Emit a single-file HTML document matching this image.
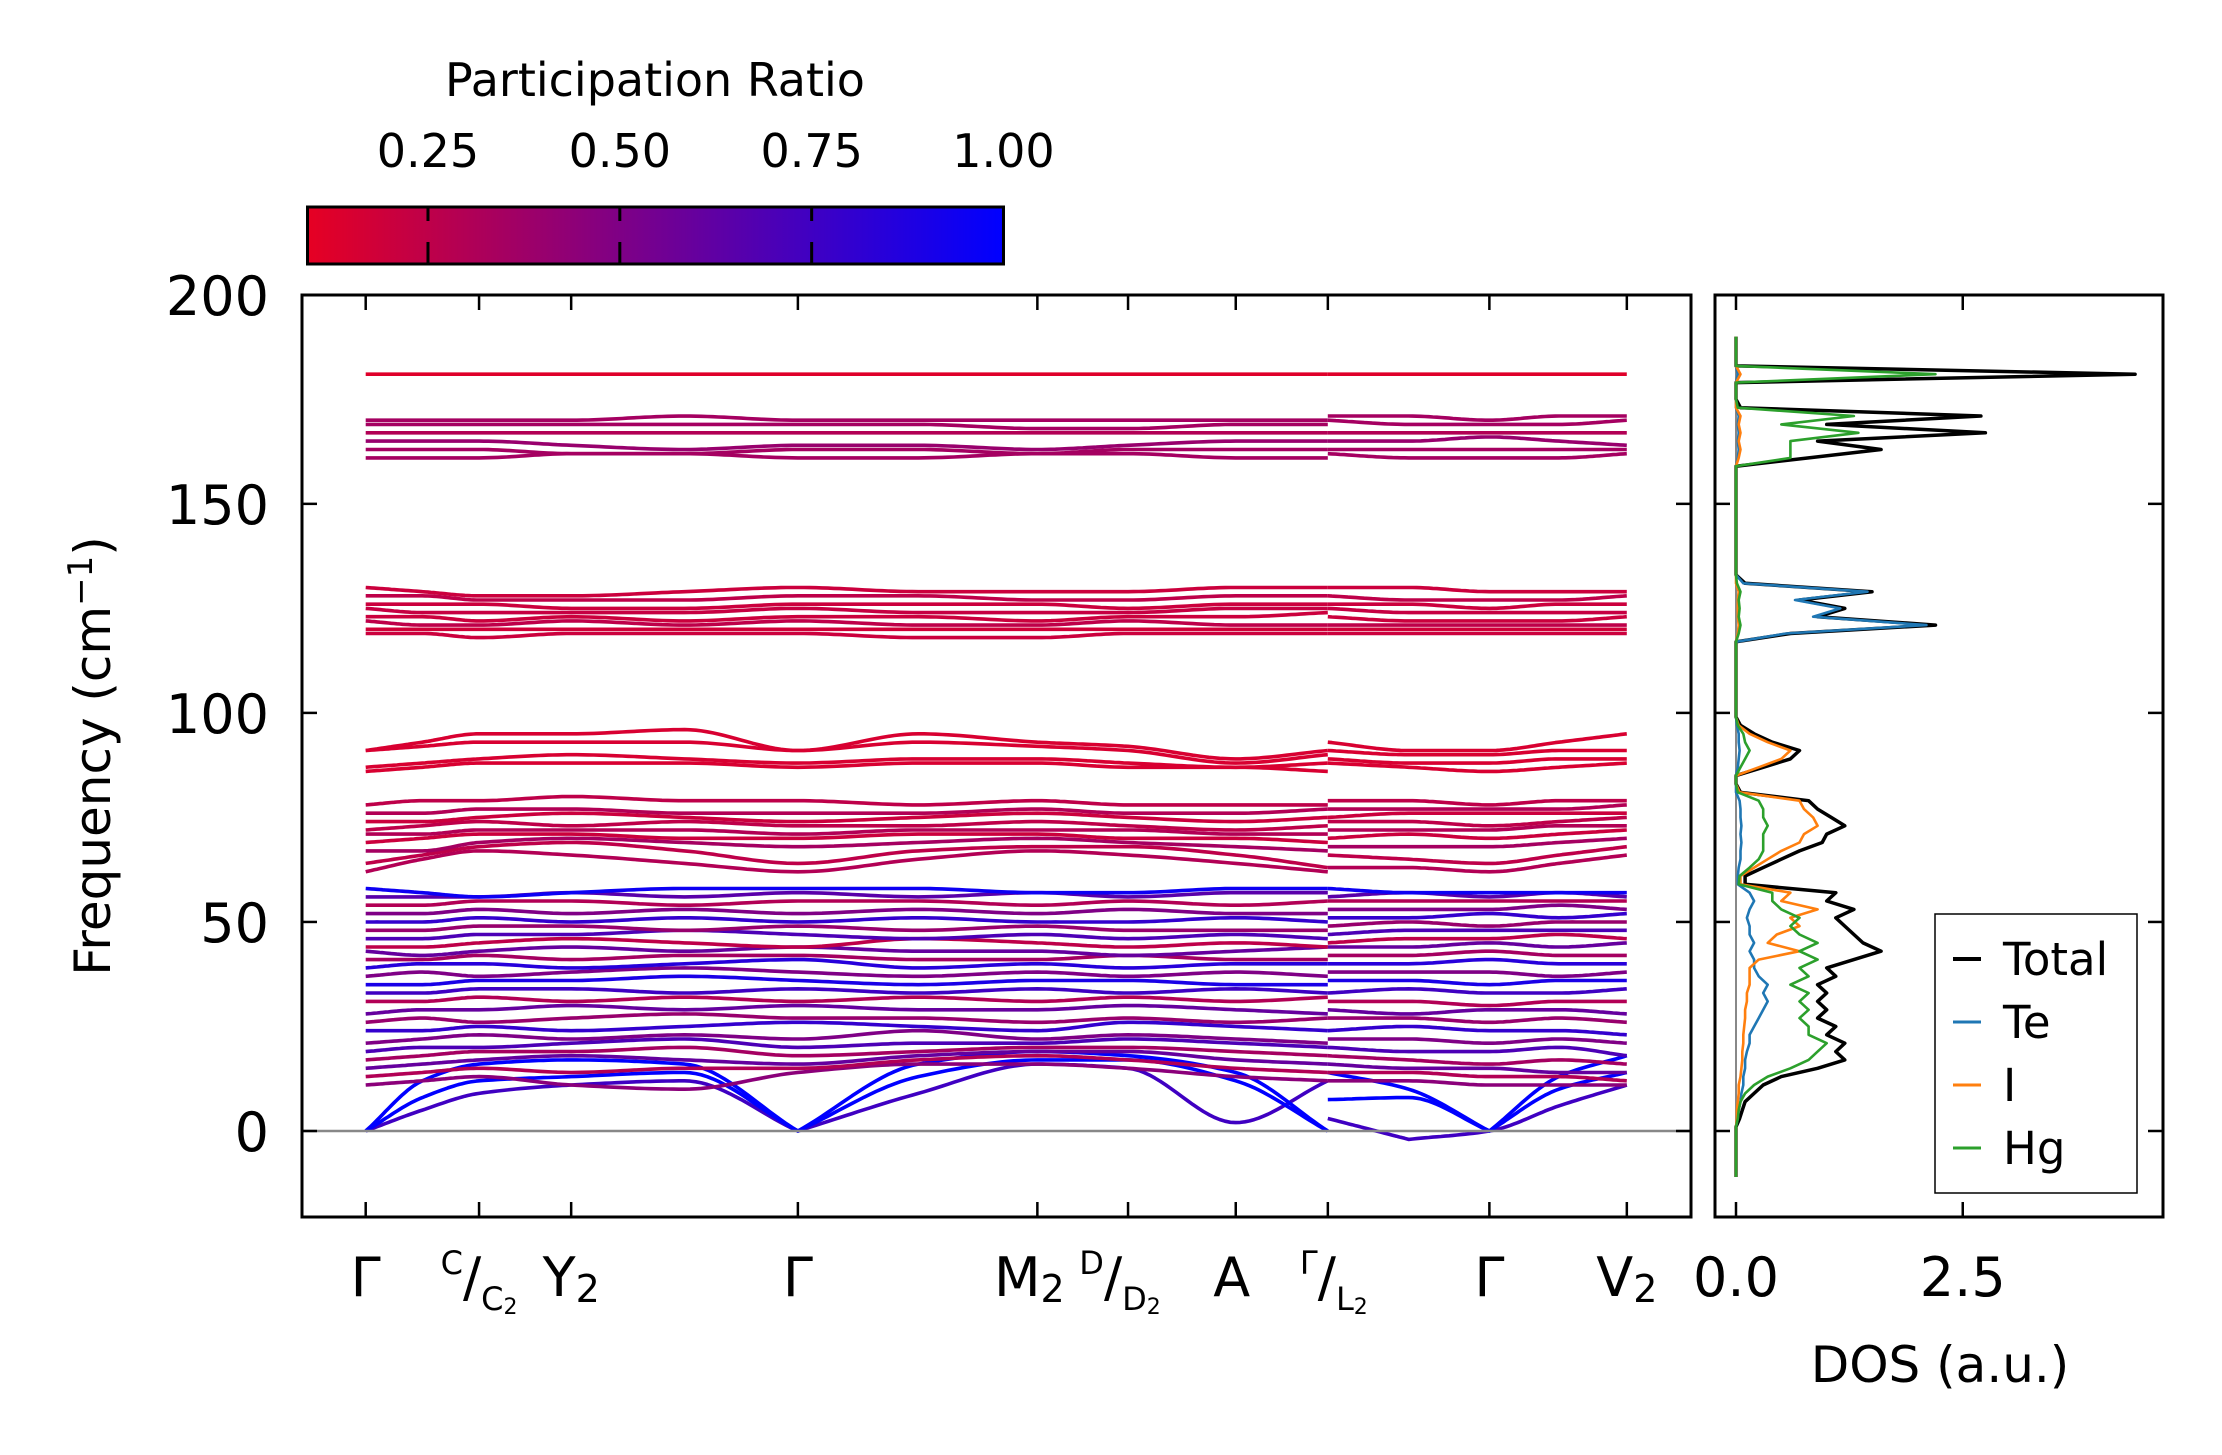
<!DOCTYPE html>
<html><head><meta charset="utf-8"><style>
html,body{margin:0;padding:0;background:#fff;}
svg{display:block;font-family:"DejaVu Sans","Liberation Sans",sans-serif;}
</style></head><body>
<svg id="fig" width="2222" height="1455" viewBox="0 0 2222 1455" xmlns="http://www.w3.org/2000/svg">
<defs>
<linearGradient id="cbgrad" x1="0" x2="1" y1="0" y2="0">
<stop offset="0" stop-color="rgb(230,0,35)"/><stop offset="1" stop-color="rgb(0,0,255)"/>
</linearGradient>
<clipPath id="mainclip"><rect x="302" y="295" width="1389" height="922"/></clipPath>
<clipPath id="dosclip"><rect x="1715" y="295" width="448" height="922"/></clipPath>
</defs>
<g id="colorbar">
<text x="655" y="96" font-size="46" text-anchor="middle">Participation Ratio</text>
<rect x="307.5" y="207" width="696" height="57" fill="url(#cbgrad)" stroke="#000" stroke-width="3"/>
<g id="cbticks"></g>
</g>
<g id="main">
<g id="bands" clip-path="url(#mainclip)"></g>
<line x1="302" x2="1691" y1="1131" y2="1131" stroke="#888" stroke-width="2.5"/>
<rect x="302" y="295" width="1389" height="922" fill="none" stroke="#000" stroke-width="3"/>
<g id="mainticks"></g>
<text transform="translate(110,756) rotate(-90)" font-size="50" text-anchor="middle">Frequency (cm<tspan dy="-18" font-size="34">−1</tspan><tspan dy="18">)</tspan></text>
</g>
<g id="dos">
<g id="doslines" clip-path="url(#dosclip)"></g>
<rect x="1715" y="295" width="448" height="922" fill="none" stroke="#000" stroke-width="3"/>
<g id="dosticks"></g>
<text x="1940" y="1382" font-size="50" text-anchor="middle">DOS (a.u.)</text>
<g id="legend">
<rect x="1935" y="914" width="202" height="279" fill="#fff" stroke="#000" stroke-width="1.5"/>
</g>
</g>
</svg>
<script>
// ---- band-structure data ----
const kLabels = ["Γ","C/C2","Y2","Γ","M2","D/D2","A","Γ/L2","Γ","V2"];
const kTicks = [0,0.80,1.45,3.05,4.74,5.38,6.14,6.79,7.93,8.90];
const kSampleA = [0,0.4,0.8,1.45,2.25,3.05,3.9,4.74,5.38,6.14,6.79];
const kSampleB = [6.79,7.36,7.93,8.42,8.90];
const bandsA = [
[0,5,9,11,12,0,9,16,15,2,12],
[0,8,12,13,14,0,13,17,17,12,0],
[0,12,16,17,16,0,16,19,18,14,0],
[11,12,13,11,10,14,16,16,15,13,12],
[13,14,15,14,15,15,17,18,17,15,14],
[15,16,17,18,17,16,18,19,19,17,16],
[17,18,19,19,20,18,19,20,20,19,18],
[19,20,20,21,22,20,21,21,22,21,20],
[21,22,23,22,23,22,24,22,23,22,21],
[24,24,25,24,25,26,25,24,26,25,24],
[26,27,26,27,28,27,27,26,27,26,27],
[28,29,29,30,29,30,29,29,30,29,28],
[31,31,32,31,32,31,32,31,32,31,32],
[33,33,34,34,33,34,33,34,33,34,33],
[35,35,36,36,37,36,35,36,36,35,35],
[37,38,37,38,39,38,37,38,37,38,37],
[39,40,40,39,40,41,39,40,39,40,40],
[41,41,42,41,42,42,41,41,42,41,41],
[43,42,43,44,43,44,43,43,42,43,44],
[44,44,45,46,45,44,46,45,44,45,44],
[46,46,47,47,48,47,46,47,46,47,46],
[48,48,49,49,48,49,48,49,48,48,48],
[50,50,51,50,51,50,51,50,50,51,50],
[52,52,53,52,53,52,53,52,53,52,52],
[54,54,55,55,54,55,55,54,55,54,55],
[56,56,56,57,56,57,56,57,56,57,57],
[58,57,56,57,58,58,58,57,57,58,58],
[62,65,67,66,64,62,65,67,66,64,62],
[64,66,68,69,67,64,67,68,68,66,63],
[67,67,69,70,69,68,69,70,69,68,67],
[69,70,71,71,70,70,71,71,70,70,69],
[71,71,72,72,72,71,72,72,72,71,71],
[72,73,74,73,74,73,73,74,73,72,73],
[74,74,75,76,75,74,75,76,75,74,75],
[76,76,77,77,76,76,76,77,76,76,77],
[78,79,79,80,79,79,78,79,78,78,78],
[91,93,95,95,96,91,95,93,92,89,91],
[91,92,93,93,93,91,93,92,91,88,90],
[87,88,89,90,89,88,89,89,88,87,88],
[86,87,88,88,88,87,88,88,87,87,86],
[130,129,128,128,129,130,129,129,129,130,130],
[128,128,127,127,127,128,128,127,127,128,128],
[126,126,126,125,125,126,126,126,125,126,126],
[125,124,124,124,124,125,124,124,124,125,125],
[123,123,122,123,122,123,123,122,123,123,124],
[122,121,121,122,121,122,121,121,122,121,121],
[120,120,120,120,120,120,120,120,120,120,120],
[119,119,118,119,119,119,118,118,119,119,119],
[170,170,170,170,171,170,170,170,170,170,170],
[169,169,169,169,169,169,169,168,168,169,169],
[167,167,167,167,167,167,167,167,167,167,167],
[165,165,165,164,163,164,164,163,164,165,165],
[163,163,163,162,162,163,163,162,163,163,163],
[161,161,161,162,162,161,161,162,162,161,161],
[181,181,181,181,181,181,181,181,181,181,181]
];
const bandsB = [
[3,-2,0,6,11],[7.5,8,0,10,14],[14,10,0,13,18],
[12,12,11,11,11],[14,14,13,13,12],[16,15,15,14,14],[18,17,16,17,16],[20,19,19,20,18],
[22,22,21,22,21],[24,25,24,24,23],[27,27,26,27,26],[29,28,29,29,28],[31,31,30,31,31],
[33,34,33,33,34],[36,36,35,36,36],[38,38,38,37,38],[40,40,41,40,40],[42,42,43,42,42],
[44,44,45,44,45],[45,46,46,47,46],[47,48,48,48,48],[49,50,49,50,50],[51,51,52,51,52],
[53,53,53,54,53],[55,55,55,55,55],[56,57,56,57,56],[58,57,57,57,57],
[63,63,62,64,66],[66,65,64,66,68],[68,68,68,69,70],[70,71,70,71,72],[72,72,72,73,73],
[74,74,73,74,75],[75,76,76,76,76],[77,77,77,77,78],[79,79,78,79,79],
[93,91,91,93,95],[91,90,90,91,91],[89,88,88,89,89],[88,87,86,87,88],
[130,130,129,129,129],[128,127,127,127,128],[126,126,125,126,126],[125,124,124,124,124],
[123,122,122,122,123],[121,121,121,121,121],[120,120,120,120,120],[119,119,119,119,119],
[171,171,170,171,171],[170,169,169,169,170],[167,167,167,167,167],[165,165,166,165,164],
[163,163,163,163,163],[162,161,161,161,162],
[181,181,181,181,181]
];
const bandPR = [0.75,1.0,1.0,
0.45,0.3,0.6,0.35,0.7,0.5,0.8,0.4,0.6,0.3,0.75,0.9,0.5,0.85,0.35,0.6,0.25,0.7,0.4,0.8,0.5,0.3,0.65,0.95,
0.3,0.25,0.35,0.2,0.3,0.25,0.2,0.3,0.25,
0.15,0.15,0.15,0.15,
0.2,0.25,0.2,0.22,0.2,0.25,0.18,0.2,
0.35,0.35,0.3,0.4,0.35,0.35,0.12];
const cbTicks = [0.25,0.50,0.75,1.00];
// ---- DOS data ----
const dosFreq = [-11,1,3,5,7,9,11,13,15,17,19,21,23,25,27,29,31,33,35,37,39,41,43,45,47,49,51,53,55,57,59,61,63,65,67,69,71,73,75,77,79,81,83,85,87,89,91,93,95,97,99,117,119,121,123,125,127,129,131,133,159,161,163,165,167,169,171,173,175,179,181,183,190];
const dosTotal = [0, 0,0.04,0.07,0.1,0.2,0.3,0.5,0.9,1.2,1.1,1.2,1.0,1.1,0.9,1.0,0.9,1.0,0.9,1.1,1.0,1.3,1.6,1.4,1.3,1.2,1.1,1.3,1.0,1.1,0.1,0.1,0.3,0.5,0.7,0.95,1.0,1.2,1.05,0.9,0.8,0.05,0,0,0.3,0.6,0.7,0.4,0.2,0.05,0, 0,0.6,2.2,0.9,1.2,0.7,1.5,0.1,0, 0,0.8,1.6,0.9,2.75,1.0,2.7,0.05,0, 0,4.4,0,0];
const dosTe = [0, 0,0.02,0.03,0.05,0.06,0.08,0.08,0.1,0.1,0.12,0.15,0.15,0.2,0.25,0.3,0.35,0.3,0.35,0.25,0.2,0.2,0.15,0.2,0.15,0.15,0.12,0.15,0.2,0.15,0.02,0.02,0.03,0.05,0.05,0.06,0.05,0.06,0.05,0.05,0.04,0,0,0,0.02,0.03,0.04,0.03,0.03,0.01,0, 0,0.55,2.1,0.85,1.15,0.65,1.45,0.08,0, 0,0.02,0.03,0.02,0.03,0.02,0.03,0,0, 0,0.02,0,0];
const dosI = [0, 0,0.01,0.01,0.02,0.03,0.03,0.05,0.06,0.07,0.07,0.08,0.08,0.09,0.1,0.1,0.12,0.12,0.15,0.15,0.15,0.25,0.7,0.35,0.45,0.7,0.6,0.9,0.5,0.6,0.05,0.05,0.2,0.35,0.5,0.7,0.75,0.9,0.85,0.75,0.7,0.04,0,0,0.25,0.5,0.6,0.35,0.15,0.03,0, 0,0.02,0.03,0.02,0.02,0.02,0.03,0,0, 0,0.03,0.05,0.03,0.05,0.03,0.05,0,0, 0,0.05,0,0];
const dosHg = [0, 0,0.02,0.03,0.05,0.1,0.2,0.35,0.6,0.8,0.9,1.0,0.8,0.8,0.7,0.8,0.7,0.8,0.6,0.8,0.7,0.9,0.7,0.9,0.7,0.6,0.7,0.5,0.4,0.4,0.03,0.04,0.15,0.25,0.3,0.3,0.3,0.35,0.3,0.3,0.25,0.02,0,0,0.05,0.1,0.15,0.1,0.08,0.02,0, 0,0.03,0.05,0.03,0.04,0.03,0.05,0.01,0, 0,0.6,0.6,0.6,1.35,0.5,1.3,0.02,0, 0,2.2,0,0];
const dosNames = ["Total","Te","I","Hg"];
const dosColors = ["#000000","#1f77b4","#ff7f0e","#2ca02c"];
const yTicks = [0,50,100,150,200];
const dosTicks = [0,2.5];
const dosTickLabels = ["0.0","2.5"];

const NS = "http://www.w3.org/2000/svg";
function mk(tag, attrs, parent){const e=document.createElementNS(NS,tag);for(const k in attrs)e.setAttribute(k,attrs[k]);parent.appendChild(e);return e;}
const xK = k => 365.7 + k*141.7;
const yF = f => 1131 - f*4.181;
const xD = d => 1736 + d*90.7;
const xPR = p => 307.5 + (p-0.093)/(1-0.093)*696;
function prColor(p){const t=Math.max(0,Math.min(1,(p-0.093)/(1-0.093)));return `rgb(${Math.round(230*(1-t))},0,${Math.round(35+220*t)})`;}

function curvePts(ks, vs){
  const n=ks.length, sec=[];
  for(let i=0;i<n-1;i++) sec.push((vs[i+1]-vs[i])/(ks[i+1]-ks[i]));
  const mL=[],mR=[];
  for(let i=0;i<n;i++){
    if(i===0){mL[i]=mR[i]=sec[0];continue;}
    if(i===n-1){mL[i]=mR[i]=sec[n-2];continue;}
    const a=sec[i-1],b=sec[i];
    if(vs[i]<=0.5 && a<0 && b>0){mL[i]=a;mR[i]=b;}
    else if(a*b<=0){mL[i]=mR[i]=0;}
    else {const m=2*a*b/(a+b);mL[i]=mR[i]=m;}
  }
  const pts=[];
  for(let i=0;i<n-1;i++){
    const h=ks[i+1]-ks[i];
    for(let s=0;s<=20;s++){
      const t=s/20,t2=t*t,t3=t2*t;
      const v=(2*t3-3*t2+1)*vs[i]+(t3-2*t2+t)*h*mR[i]+(-2*t3+3*t2)*vs[i+1]+(t3-t2)*h*mL[i+1];
      pts.push(xK(ks[i]+t*h).toFixed(1)+","+yF(v).toFixed(1));
    }
  }
  return pts.join(" ");
}
const gB=document.getElementById("bands");
bandsA.forEach((vals,i)=>{
  const c=prColor(bandPR[i]);
  const pa=mk("polyline",{points:curvePts(kSampleA,vals),fill:"none",stroke:c,"stroke-width":3.6,"stroke-linejoin":"round"},gB);
  
  
  const pb=mk("polyline",{points:curvePts(kSampleB,bandsB[i]),fill:"none",stroke:c,"stroke-width":3.6,"stroke-linejoin":"round"},gB);
  
  
});

// main ticks
const gT=document.getElementById("mainticks");
yTicks.forEach(v=>{
  const y=yF(v);
  const l1=mk("line",{x1:302,x2:317,y1:y,y2:y,stroke:"#000","stroke-width":2.5},gT);
  
  
  const l2=mk("line",{x1:1676,x2:1691,y1:y,y2:y,stroke:"#000","stroke-width":2.5},gT);
  
  
  const t=mk("text",{x:269,y:y+20,"font-size":54,"text-anchor":"end"},gT);
  t.textContent=String(v);
  
  
});
kTicks.forEach(k=>{
  const x=xK(k);
  const a=mk("line",{x1:x,x2:x,y1:295,y2:310,stroke:"#000","stroke-width":2.5},gT);
  
  
  const b=mk("line",{x1:x,x2:x,y1:1202,y2:1217,stroke:"#000","stroke-width":2.5},gT);
  
  
});
function kLabel(k, parts, dx){
  const t=mk("text",{x:xK(k)+(dx||0),y:1296,"font-size":54,"text-anchor":"middle"},gT);
  
  
  parts.forEach(p=>{const s=mk("tspan",p.a||{},t);s.textContent=p.t;});
}
kLabel(kTicks[0],[{t:"Γ"}]);
kLabel(kTicks[1],[{t:"C",a:{"font-size":32,dy:-22}},{t:"/",a:{"font-size":54,dy:22}},{t:"C",a:{"font-size":32,dy:14}},{t:"2",a:{"font-size":22,dy:4}}]);
kLabel(kTicks[2],[{t:"Y"},{t:"2",a:{"font-size":38,dy:6}}],0);
kLabel(kTicks[3],[{t:"Γ"}]);
kLabel(kTicks[4],[{t:"M"},{t:"2",a:{"font-size":38,dy:6}}],-8);
kLabel(kTicks[5],[{t:"D",a:{"font-size":32,dy:-22}},{t:"/",a:{"font-size":54,dy:22}},{t:"D",a:{"font-size":32,dy:14}},{t:"2",a:{"font-size":22,dy:4}}],-8);
kLabel(kTicks[6],[{t:"A"}],-4);
kLabel(kTicks[7],[{t:"Γ",a:{"font-size":32,dy:-22}},{t:"/",a:{"font-size":54,dy:22}},{t:"L",a:{"font-size":32,dy:14}},{t:"2",a:{"font-size":22,dy:4}}],6);
kLabel(kTicks[8],[{t:"Γ"}]);
kLabel(kTicks[9],[{t:"V"},{t:"2",a:{"font-size":38,dy:6}}],0);

// colorbar ticks
const gC=document.getElementById("cbticks");
cbTicks.forEach(p=>{
  const x=xPR(p);
  if(p<1){
    const a=mk("line",{x1:x,x2:x,y1:207,y2:221,stroke:"#000","stroke-width":3},gC);
    
    
    const b=mk("line",{x1:x,x2:x,y1:242,y2:264,stroke:"#000","stroke-width":3},gC);
    
    
  }
  const t=mk("text",{x:x,y:167,"font-size":46,"text-anchor":"middle"},gC);
  t.textContent=p.toFixed(2);
  
  
});

// DOS
const gD=document.getElementById("doslines");
const zl=mk("line",{x1:xD(0),x2:xD(0),y1:yF(-11),y2:yF(190),stroke:"#888","stroke-width":2},gD);


const series=[dosTotal,dosTe,dosI,dosHg];
series.forEach((s,j)=>{
  const pts=dosFreq.map((f,i)=>xD(s[i]).toFixed(1)+","+yF(f).toFixed(1)).join(" ");
  const p=mk("polyline",{points:pts,fill:"none",stroke:dosColors[j],"stroke-width":j===0?3.5:2.6,"stroke-linejoin":"round"},gD);
  
  
});
const gDT=document.getElementById("dosticks");
yTicks.forEach(v=>{
  const y=yF(v);
  const a=mk("line",{x1:1715,x2:1730,y1:y,y2:y,stroke:"#000","stroke-width":2.5},gDT);
  
  
  const b=mk("line",{x1:2148,x2:2163,y1:y,y2:y,stroke:"#000","stroke-width":2.5},gDT);
  
  
});
dosTicks.forEach((d,i)=>{
  const x=xD(d);
  const a=mk("line",{x1:x,x2:x,y1:295,y2:310,stroke:"#000","stroke-width":2.5},gDT);
  
  
  const b=mk("line",{x1:x,x2:x,y1:1202,y2:1217,stroke:"#000","stroke-width":2.5},gDT);
  
  
  const t=mk("text",{x:x,y:1296,"font-size":54,"text-anchor":"middle"},gDT);
  t.textContent=dosTickLabels[i];
  
  
});
const gL=document.getElementById("legend");
dosNames.forEach((n,j)=>{
  const y=959+j*63;
  const l=mk("line",{x1:1953,x2:1981,y1:y,y2:y,stroke:dosColors[j],"stroke-width":j===0?4:3},gL);
  
  
  const t=mk("text",{x:2003,y:y+16,"font-size":45},gL);
  t.textContent=n;
  
  
});
</script>
</body></html>
